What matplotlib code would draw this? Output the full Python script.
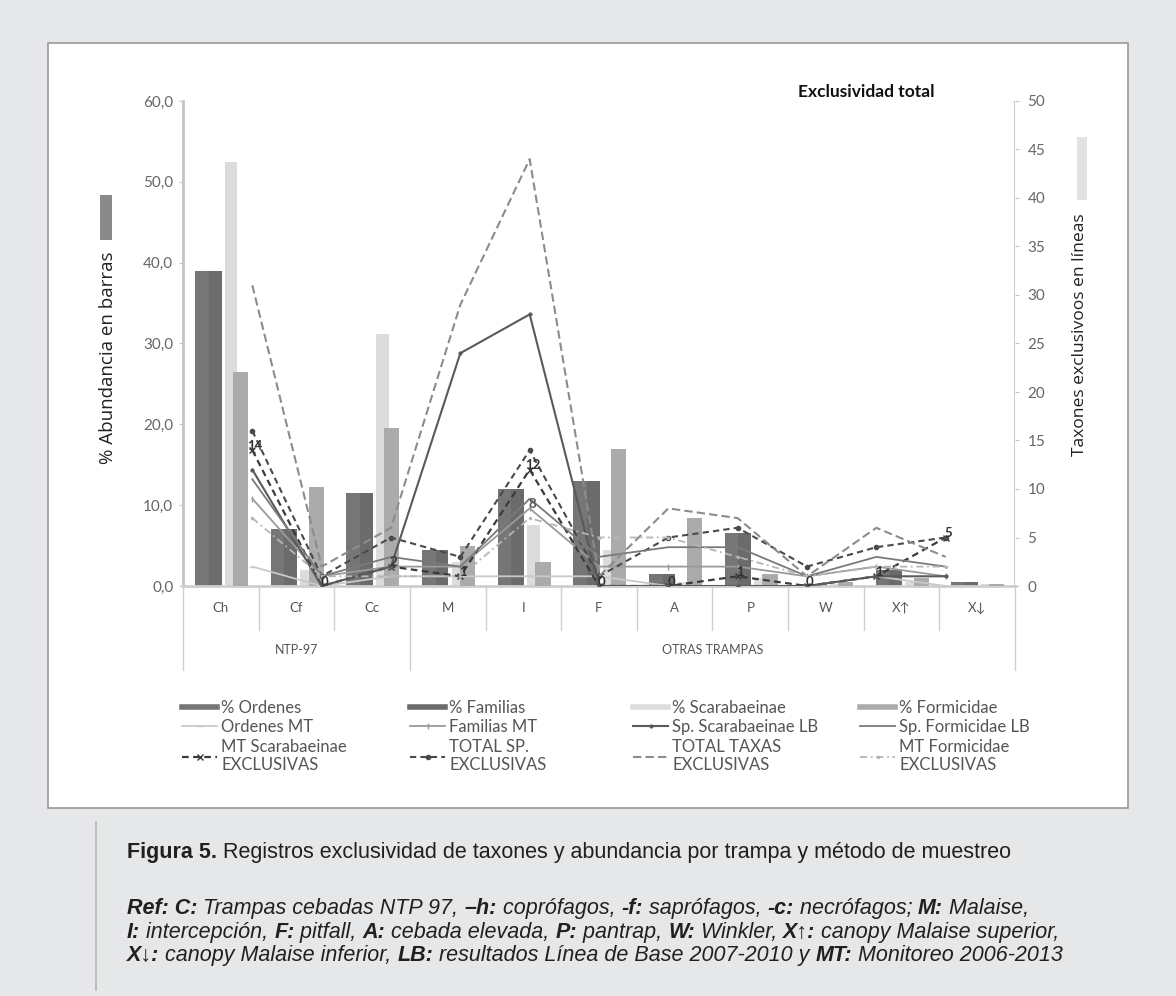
import matplotlib
matplotlib.use("Agg")
import matplotlib.pyplot as plt
import matplotlib.patches as patches
from matplotlib.lines import Line2D
from matplotlib import font_manager
import numpy as np

W, H = 1176, 996

# categorias (trampas)
cats = ["Ch", "Cf", "Cc", "M", "I", "F", "A", "P", "W", "X↑", "X↓"]
groups = [("NTP-97", 0, 3), ("OTRAS TRAMPAS", 3, 11)]

# barras: % abundancia (eje izquierdo)
pct_ordenes = [39.0, 7.0, 11.5, 4.5, 12.0, 13.0, 1.5, 6.5, 0.3, 2.0, 0.5]
pct_familias = [39.0, 7.0, 11.5, 4.5, 12.0, 13.0, 1.5, 6.5, 0.3, 2.0, 0.5]
pct_scarab = [52.5, 2.0, 31.2, 3.0, 7.5, 4.5, 0.5, 1.0, 0.2, 0.5, 0.3]
pct_formic = [26.5, 12.3, 19.5, 5.0, 3.0, 17.0, 8.4, 1.5, 0.5, 1.0, 0.2]

# lineas: taxones exclusivos (eje derecho)
ordenes_mt = [2, 0, 1, 1, 1, 1, 0, 0, 0, 1, 0]
familias_mt = [9, 1, 2, 2, 8, 2, 2, 2, 1, 2, 1]
mt_scarab_excl = [14, 0, 2, 1, 12, 0, 0, 1, 0, 1, 5]
total_sp_excl = [16, 1, 5, 3, 14, 1, 5, 6, 2, 4, 5]
sp_scarab_lb = [12, 0, 2, 24, 28, 0, 0, 0, 0, 1, 1]
sp_formic_lb = [11, 1, 3, 2, 9, 3, 4, 4, 1, 3, 2]
total_taxas_excl = [31, 2, 6, 29, 44, 1, 8, 7, 1, 6, 3]
mt_formic_excl = [7, 1, 1, 1, 7, 5, 5, 3, 1, 2, 2]

names = {f.name for f in font_manager.fontManager.ttflist}
cap_font = "Liberation Sans Narrow" if "Liberation Sans Narrow" in names else "Liberation Sans"
ui_font = ["Lato", "DejaVu Sans"]

fig = plt.figure(figsize=(W / 100, H / 100), dpi=100)
fig.patch.set_facecolor("#e6e7e8")


def fx(px):
    return px / W


def fy(py):
    return 1 - py / H


# panel blanco
fig.patches.append(patches.Rectangle((fx(48), fy(808)), 1080 / W, 765 / H, transform=fig.transFigure,
                                     facecolor="white", edgecolor="#9a9a9a", lw=1.2, zorder=-5))

rect = [fx(183), fy(586), (1015 - 183) / W, (586 - 101) / H]
ax = fig.add_axes(rect)
ax.set_facecolor("none")
x = np.arange(len(cats))

ax.bar(x - 0.25, pct_ordenes, 0.18, color="#767676", zorder=2)
ax.bar(x - 0.075, pct_familias, 0.17, color="#6b6b6b", zorder=2)
ax.bar(x + 0.135, pct_scarab, 0.17, color="#dcdcdc", zorder=2)
ax.bar(x + 0.26, pct_formic, 0.2, color="#ababab", zorder=3)

ax.set_xlim(-0.5, len(cats) - 0.5)
ax.set_ylim(0, 60)
ax.set_yticks(np.arange(0, 61, 10))
ax.set_yticklabels([f"{v:.1f}".replace(".", ",") for v in range(0, 61, 10)])
ax.set_xticks([])
for s in ["top", "right"]:
    ax.spines[s].set_visible(False)
ax.spines["left"].set_color("#c4c4c4")
ax.spines["left"].set_linewidth(2)
ax.spines["bottom"].set_color("#cfcfcf")
ax.spines["bottom"].set_linewidth(2)
ax.tick_params(axis="y", length=3, color="#c4c4c4", labelsize=11, labelcolor="#666666", pad=4)
for t in ax.get_yticklabels():
    t.set_family(ui_font)

# eje secundario: las lineas ocupan 12 posiciones (1..11)
ax2 = fig.add_axes(rect, frameon=False)
ax2.set_facecolor("none")
ax2.set_xlim(0, len(cats) + 1)
ax2.set_ylim(0, 50)
ax2.set_xticks([])
ax2.yaxis.tick_right()
ax2.set_yticks(np.arange(0, 51, 5))
ax2.add_artist(Line2D([1, 1], [0, 1], transform=ax2.transAxes, color="#c4c4c4", lw=2))
ax2.tick_params(axis="y", length=3, color="#c4c4c4", labelsize=11, labelcolor="#666666", pad=6)
for t in ax2.get_yticklabels():
    t.set_family(ui_font)
xl = x + 1

l_ord, = ax2.plot(xl, ordenes_mt, color="#c9c9c9", lw=1.3, marker="_", ms=5)
l_fam, = ax2.plot(xl, familias_mt, color="#9a9a9a", lw=1.3, marker="|", ms=4)
l_mts, = ax2.plot(xl, mt_scarab_excl, color="#3a3a3a", lw=1.6, ls=(0, (3, 2)), marker="x", ms=4)
l_tsp, = ax2.plot(xl, total_sp_excl, color="#4a4a4a", lw=1.5, ls=(0, (3, 2)), marker="o", ms=3)
l_ssl, = ax2.plot(xl, sp_scarab_lb, color="#5a5a5a", lw=1.5, marker=".", ms=4)
l_sfl, = ax2.plot(xl, sp_formic_lb, color="#7a7a7a", lw=1.3)
l_ttx, = ax2.plot(xl, total_taxas_excl, color="#8c8c8c", lw=1.5, ls=(0, (4, 2)))
l_mtf, = ax2.plot(xl, mt_formic_excl, color="#b5b5b5", lw=1.3, ls=(0, (4, 2, 1, 2)), marker=".", ms=3)

for xi, v in zip(xl, mt_scarab_excl):
    ax2.annotate(str(v), (xi, v), xytext=(2, 3), textcoords="offset points", ha="center",
                 va="center", fontsize=9.5, color="#333333", family=ui_font, weight="bold")
ax2.annotate(str(familias_mt[4]), (xl[4], familias_mt[4]), xytext=(2, 3), textcoords="offset points",
             ha="center", va="center", fontsize=9.5, color="#555555", family=ui_font, weight="bold")

# etiquetas de categoria y grupos
trans = ax.get_xaxis_transform()
for xi, c in zip(x, cats):
    ax.text(xi, -0.045, c, transform=trans, ha="center", va="center", fontsize=9.5,
            color="#555555", family=ui_font)
for xb in np.arange(-0.5, len(cats), 1.0):
    low = -0.173 if xb in (-0.5, 2.5, len(cats) - 0.5) else -0.091
    ax.plot([xb, xb], [0, low], transform=trans, color="#cfcfcf", lw=1, clip_on=False)
for name, a, b in groups:
    ax.text((a + b - 1) / 2, -0.132, name, transform=trans, ha="center", va="center",
            fontsize=9, color="#555555", family=ui_font)

fig.text(fx(866), fy(92), "Exclusividad total", ha="center", va="center", fontsize=12.5,
         weight="bold", family=ui_font, color="#111111")
fig.text(fx(108), fy(358), "% Abundancia en barras", rotation=90, ha="center", va="center",
         fontsize=13.5, family=["Open Sans", "DejaVu Sans"], color="#222222")
fig.text(fx(1080), fy(335), "Taxones exclusivoos en líneas", rotation=90, ha="center", va="center",
         fontsize=12.6, family=["Open Sans", "DejaVu Sans"], color="#222222")
fig.patches.append(patches.Rectangle((fx(100), fy(240)), 12 / W, 45 / H, transform=fig.transFigure,
                                     facecolor="#8a8a8a", edgecolor="none"))
fig.patches.append(patches.Rectangle((fx(1077), fy(200)), 10 / W, 63 / H, transform=fig.transFigure,
                                     facecolor="#e2e2e2", edgecolor="none"))

# leyenda en 4 columnas
h_ord = Line2D([], [], color="#767676", lw=4)
h_fam = Line2D([], [], color="#6b6b6b", lw=4)
h_sca = Line2D([], [], color="#dcdcdc", lw=4)
h_for = Line2D([], [], color="#ababab", lw=4)
columns = [
    ([h_ord, l_ord, l_mts], ["% Ordenes", "Ordenes MT", "MT Scarabaeinae\nEXCLUSIVAS"], 182),
    ([h_fam, l_fam, l_tsp], ["% Familias", "Familias MT", "TOTAL SP.\nEXCLUSIVAS"], 410),
    ([h_sca, l_ssl, l_ttx], ["% Scarabaeinae", "Sp. Scarabaeinae LB", "TOTAL TAXAS\nEXCLUSIVAS"], 633),
    ([h_for, l_sfl, l_mtf], ["% Formicidae", "Sp. Formicidae LB", "MT Formicidae\nEXCLUSIVAS"], 860),
]
for hs, ls, xpx in columns:
    fig.legend(hs, ls, loc="upper left", bbox_to_anchor=(fx(xpx), fy(700)), frameon=False,
               prop={"family": ui_font, "size": 12}, labelcolor="#555555", handlelength=2.1,
               handletextpad=0.25, labelspacing=0.2, borderpad=0, borderaxespad=0)

# pie de figura
fig.add_artist(Line2D([fx(96), fx(96)], [fy(822), fy(990)], color="#b5b5b5", lw=1.2))
renderer = fig.canvas.get_renderer()


def draw_runs(x0, y0, runs, size=15.5):
    xx = x0
    for txt, weight, style in runs:
        t = fig.text(fx(xx), fy(y0), txt, fontsize=size, weight=weight, style=style,
                     family=[cap_font, "DejaVu Sans"], va="center", ha="left", color="#231f20")
        xx += t.get_window_extent(renderer).width


B, N, I = "bold", "normal", "italic"
draw_runs(127, 852, [("Figura 5.", B, N),
                     (" Registros exclusividad de taxones y abundancia por trampa y método de muestreo", N, N)])
draw_runs(127, 908, [("Ref: C:", B, I), (" Trampas cebadas NTP 97, ", N, I), ("–h:", B, I),
                     (" coprófagos, ", N, I), ("-f:", B, I), (" saprófagos, ", N, I), ("-c:", B, I),
                     (" necrófagos; ", N, I), ("M:", B, I), (" Malaise,", N, I)])
draw_runs(127, 932, [("I:", B, I), (" intercepción, ", N, I), ("F:", B, I), (" pitfall, ", N, I),
                     ("A:", B, I), (" cebada elevada, ", N, I), ("P:", B, I), (" pantrap, ", N, I),
                     ("W:", B, I), (" Winkler, ", N, I), ("X↑:", B, I),
                     (" canopy Malaise superior,", N, I)])
draw_runs(127, 955, [("X↓:", B, I), (" canopy Malaise inferior, ", N, I), ("LB:", B, I),
                     (" resultados Línea de Base 2007-2010 y ", N, I), ("MT:", B, I),
                     (" Monitoreo 2006-2013", N, I)])

fig.savefig("out.png", dpi=100, facecolor=fig.get_facecolor())
